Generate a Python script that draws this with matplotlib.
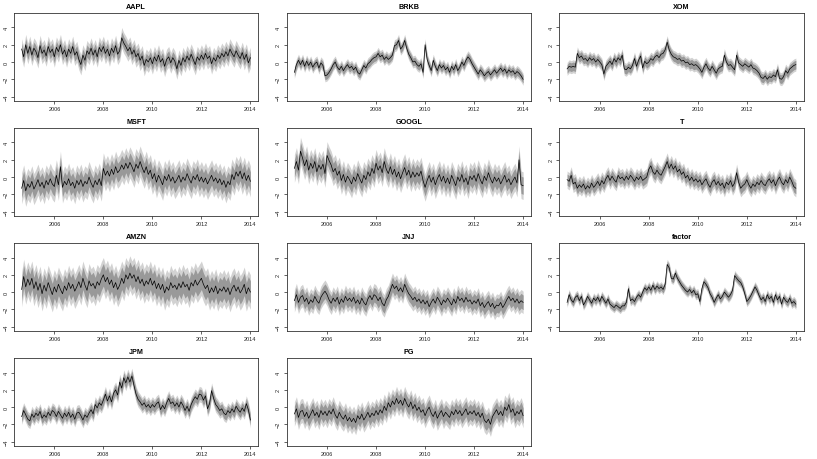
import matplotlib
matplotlib.use("Agg")
import matplotlib.pyplot as plt
import numpy as np

plt.rcParams['font.family'] = ['Liberation Sans', 'DejaVu Sans']

#inputs: monthly values, Sep 2004 .. Jan 2014
start_year = 2004 + 8 / 12.0
names = ['AAPL', 'BRKB', 'XOM', 'MSFT', 'GOOGL', 'T', 'AMZN', 'JNJ', 'factor', 'JPM', 'PG']

aapl = [1.5, 0.6, 2.0, 1.0,
        1.8, 0.8, 1.6, 1.2, 0.5, 1.9, 1.0, 1.4, 0.7, 1.8, 1.1, 1.5,
        0.6, 1.7, 1.2, 2.0, 0.9, 1.4, 0.6, 1.5, 1.0, 1.8, 0.8, 1.2,
        0.3, -0.3, 0.8, 0.2, 1.3, 0.9, 1.6, 0.8, 1.4, 0.6, 1.7, 1.2,
        1.8, 1.0, 1.5, 0.7, 1.6, 1.1, 1.9, 0.9, 1.3, 2.8, 2.2, 1.8,
        1.3, 1.7, 0.9, 1.4, 0.6, 1.0, 0.2, 0.7, -0.4, 0.3, 0.0, 0.5,
        -0.2, 0.6, 0.1, 0.8, 0.0, 0.4, -0.5, 0.3, 0.6, -0.1, 0.5, 0.1,
        -0.8, 0.2, -0.4, 0.5, 0.0, 0.7, 0.2, 0.9, 0.3, -0.3, 0.6, 0.2,
        0.8, 0.3, 1.0, 0.4, 0.7, -0.2, 0.5, 0.1, 0.8, 0.4, 1.0, 0.6,
        1.2, 0.7, 1.5, 1.0, 0.6, 1.3, 0.8, 0.4, 1.1, 0.3, 0.9, -0.1,
        0.5]
brkb = [-1.2, -0.3, 0.2, -0.3,
        0.2, -0.5, 0.1, -0.4, 0.0, -0.6, -0.2, 0.0, -0.7, -0.1, -0.4, -1.6,
        -1.5, -1.2, -0.8, -0.3, 0.0, -0.6, -0.9, -0.5, -1.0, -0.6, -0.3, -0.7,
        -0.5, -0.9, -0.6, -1.2, -1.4, -0.9, -0.4, -0.7, -0.2, 0.0, 0.3, 0.5,
        0.6, 1.0, 0.6, 0.8, 0.3, 0.6, 0.3, 0.5, 0.8, 1.9, 2.0, 2.5,
        1.5, 1.8, 2.5, 1.6, 0.9, 0.5, 0.0, 0.1, -0.3, -0.5, -0.2, -1.2,
        2.0, 0.3, -0.4, -1.0, 0.2, -0.5, -1.0, -0.3, -0.7, -0.4, -0.9, -0.6,
        -1.2, -0.5, -0.9, -0.3, -1.0, -0.6, 0.0, -0.4, 0.2, 0.6, 0.3, -0.2,
        -0.6, -1.0, -1.4, -0.9, -1.2, -1.6, -1.3, -1.1, -1.5, -1.2, -0.9, -1.3,
        -1.0, -0.7, -1.1, -0.8, -1.3, -0.9, -1.2, -1.0, -1.4, -1.1, -1.3, -1.6,
        -2.0]
xom = [-0.8, -0.5, -0.6, -0.5,
       -0.6, 1.0, 0.5, 0.7, 0.3, 0.4, 0.1, 0.5, 0.2, 0.4, 0.0, 0.3,
       0.0, -0.3, -1.4, -0.5, -0.2, 0.1, -0.3, 0.4, 0.0, 0.5, 0.2, 0.8,
       -0.8, -0.9, -0.6, -0.8, -0.4, 0.4, -0.5, 0.2, 0.7, -0.7, 0.1, -0.2,
       0.0, 0.4, 0.2, 0.6, 0.8, 0.5, 0.9, 1.0, 1.4, 2.3, 1.4, 0.9,
       0.6, 0.5, 0.3, 0.4, 0.1, 0.2, -0.1, 0.0, -0.3, -0.2, -0.4, -0.3,
       -0.5, -0.8, -1.2, -0.6, -0.2, -0.7, -1.0, -0.5, -0.9, -1.3, -0.8, -0.6,
       -0.5, 0.8, 0.0, -0.4, -0.3, -0.6, -0.9, 0.8, -0.1, -0.3, -0.5, -0.2,
       -0.4, -0.6, -0.3, -0.7, -0.8, -1.0, -1.3, -1.8, -1.9, -1.6, -2.0, -1.7,
       -1.8, -1.5, -1.7, -0.9, -1.9, -2.0, -1.7, -1.0, -1.3, -0.8, -0.6, -0.4,
       -0.3]
msft = [-1.3, -0.4, -1.6, -0.8,
        -1.2, -0.5, -1.4, -0.9, -0.3, -1.1, -0.6, -1.3, -0.4, -0.9, -0.2, -0.8,
        -1.1, 0.2, -0.9, 1.2, -1.2, -0.5, -0.9, -0.2, -1.0, -0.6, -1.3, -0.4,
        -0.9, -0.3, -1.1, -0.5, -0.8, 0.0, -0.7, -1.2, -0.4, -0.9, -0.2, -1.0,
        1.0, 0.2, 0.7, 0.1, 0.9, 0.3, 1.2, 0.5, 0.8, 1.4, 0.9, 1.6,
        1.0, 1.7, 1.2, 0.6, 1.5, 1.0, 1.8, 1.1, 0.5, 1.2, 0.3, 0.8,
        -0.2, 0.4, -0.6, 0.2, -0.3, -0.9, 0.1, -0.4, 0.3, -0.5, 0.0, -0.7,
        -0.3, 0.2, -0.6, 0.0, -0.4, 0.4, -0.2, -0.7, 0.1, -0.3, 0.3, -0.5,
        0.0, -0.6, -0.1, -0.8, -0.3, 0.2, -0.5, -0.1, -0.7, -0.2, -0.9, -0.4,
        -1.2, -0.5, -0.9, 0.3, -0.3, 0.6, 0.1, 0.7, -0.2, 0.5, -0.4, 0.2,
        -0.5]
googl = [1.0, 1.8, 0.8, 3.0,
         2.2, 1.3, 2.0, 0.8, 1.6, 1.0, 1.8, 0.6, 1.4, 0.9, 1.5, 0.4,
         2.5, 1.9, 1.4, 0.6, 1.0, 0.2, 0.7, -0.4, 0.3, -0.6, 0.1, -0.3,
         -0.8, 0.0, -0.5, 0.4, -0.2, -0.7, 0.2, -0.3, 0.6, 0.1, 1.0, 0.4,
         1.6, 0.8, 1.3, 0.5, 1.8, 0.9, 0.4, 1.2, 0.3, 0.9, 0.0, 0.6,
         -0.2, 0.5, 1.1, 0.2, 0.8, -0.1, 0.6, 0.0, 0.5, 0.1, 0.7, -0.4,
         -1.2, -0.4, 0.2, -0.6, 0.0, -0.9, -0.2, 0.3, -0.5, 0.1, -0.7, -0.1,
         -0.8, 0.2, -0.4, -1.0, 0.0, -0.5, 0.3, -0.6, -0.1, -0.9, 0.1, -0.3,
         0.2, -0.5, 0.4, -0.3, -0.8, 0.1, -0.4, 0.5, -0.2, -0.7, 0.0, -0.5,
         -0.1, -0.8, -0.3, 0.2, -0.6, -0.2, -0.9, -0.4, 0.0, -0.7, 2.0, -0.9,
         -1.0]
att = [-0.3, -0.5, 0.2, -0.8,
       -0.6, -1.3, -0.9, -1.2, -0.8, -1.4, -1.0, -1.3, -0.7, -1.2, -0.9, -0.5,
       -1.0, -0.4, -0.8, -0.2, 0.2, -0.4, 0.1, -0.3, -0.6, 0.2, -0.2, 0.0,
       -0.4, 0.1, -0.3, 0.2, -0.1, -0.5, 0.0, -0.3, 0.1, -0.4, -0.2, 0.0,
       0.9, 1.3, 0.6, 0.3, 0.8, 0.4, 0.2, 0.7, 1.2, 1.8, 1.0, 1.5,
       0.9, 1.3, 0.6, 0.9, 0.3, 0.6, -0.1, 0.2, -0.4, 0.0, -0.5, -0.2,
       -0.6, -0.3, -0.9, -0.5, -0.2, -0.8, -1.2, -0.6, -0.3, -0.9, -0.5, -1.0,
       -0.7, -1.3, -0.6, -0.9, -0.4, -1.1, -0.7, 0.5, -0.6, -1.3, -1.0, -0.8,
       -0.3, -0.9, -1.3, -0.8, -1.1, -0.6, -0.9, -0.4, -0.8, -1.0, -0.5, -0.2,
       -0.7, -0.3, -1.0, -0.4, 0.0, -0.6, -0.9, -0.3, -0.7, 0.0, -0.5, -1.1,
       -1.3]
amzn = [0.3, 1.8, 0.6, 1.5,
        0.8, 1.6, 0.4, 1.2, 0.2, 1.0, -0.2, 0.8, 0.1, 1.1, 0.4, -0.3,
        0.6, 0.0, 0.9, 0.3, -0.2, 0.7, 0.2, 1.1, 0.4, 0.9, 0.1, 0.6,
        1.2, 0.5, 1.6, 0.8, 0.2, 1.3, 0.7, 1.0, 0.4, 1.2, 0.8, 1.5,
        2.0, 1.2, 1.7, 0.9, 1.4, 0.5, 1.1, 0.3, 0.8, 1.6, 1.0, 2.0,
        1.5, 2.2, 1.6, 2.0, 1.2, 1.8, 1.0, 1.5, 0.7, 1.3, 0.9, 1.6,
        0.8, 1.3, 0.4, 1.0, 0.3, 0.9, -0.1, 0.6, 0.2, 1.1, 0.5, 0.8,
        0.3, 1.0, 0.5, 1.2, 0.6, 0.9, 0.2, 1.1, 0.7, 1.4, 0.8, 1.2,
        1.6, 0.9, 0.4, 0.8, -0.1, 0.5, 0.0, 0.7, -0.2, 0.4, 0.1, 0.6,
        0.0, 0.5, -0.3, 0.4, 0.8, 0.1, 0.6, -0.1, 0.3, 0.9, -0.2, 0.5,
        0.0]
jnj = [-1.0, -0.3, -1.2, -0.6,
       -0.4, -1.1, -0.7, -1.4, -0.9, -1.2, -0.5, -1.0, -1.3, -0.6, -0.2, 0.1,
       -0.3, -0.9, -1.3, -0.7, -1.1, -0.6, -1.4, -0.8, -1.2, -0.5, -1.0, -0.7,
       -1.1, -0.6, -1.3, -0.9, -1.4, -0.7, -1.2, -1.5, -0.8, -0.4, -0.9, -0.3,
       -0.5, -1.0, -0.6, -1.3, -1.6, -0.9, -0.5, 0.2, 0.9, 0.4, 0.7, 0.1,
       0.5, 0.0, 0.9, 0.3, -0.2, -0.5, -0.9, -0.6, -1.1, -0.8, -1.3, -0.9,
       -1.4, -1.0, -1.7, -1.2, -0.8, -1.3, -0.6, -1.0, -1.5, -0.9, -1.2, -0.7,
       -1.1, -1.5, -0.8, -1.3, -0.5, -1.0, -0.7, -1.2, -0.6, -1.1, -0.9, -1.4,
       -1.0, -1.3, -0.8, -1.6, -1.2, -1.8, -1.4, -1.1, -1.7, -1.3, -1.9, -1.5,
       -1.6, -1.2, -1.8, -1.4, -0.9, -0.5, -1.0, -0.7, -1.2, -0.8, -1.3, -1.0,
       -1.2]
factor = [-1.2, -0.3, -0.9, -1.2,
          -0.6, -0.4, -1.0, -0.5, -1.5, -1.1, -0.5, -0.9, -1.3, -0.7, -1.0, -0.6,
          -1.1, -0.5, -0.9, -1.3, -0.8, -1.4, -1.6, -1.8, -1.5, -1.7, -1.9, -1.6,
          -1.6, -1.2, 0.4, -1.0, -0.8, -1.1, -0.6, -0.3, -0.6, 0.0, 0.5, 0.2,
          0.6, 0.2, 0.8, 0.3, 0.7, 0.4, 0.6, 0.3, 0.9, 3.2, 2.8, 1.6,
          1.5, 2.2, 1.6, 1.2, 0.8, 0.5, 0.2, 0.0, 0.3, -0.1, 0.2, -0.3,
          -0.2, -1.1, 0.4, 1.2, 0.9, 0.5, -0.2, -0.6, -1.2, -0.7, -0.3, -0.8,
          -0.5, 0.0, -0.3, -0.6, -0.3, 0.2, 1.9, 1.6, 1.3, 1.1, 0.6, -0.2,
          -1.1, -0.8, -0.4, 0.1, 0.6, 0.2, -0.4, -0.9, -0.6, -1.1, -0.3, -0.8,
          -0.5, -1.2, -0.3, -0.9, -0.5, -1.4, -0.6, -1.0, -1.2, -0.7, -1.3, -1.1,
          -1.4]
jpm = [-1.1, -0.4, -0.9, -1.4,
       -1.6, -0.8, -1.2, -0.7, -1.0, -0.5, -1.3, -0.9, -1.2, -0.6, -1.0, -0.4,
       -0.6, -1.1, -0.5, -0.9, -1.3, -0.7, -1.1, -0.6, -1.2, -0.8, -1.4, -0.7,
       -0.6, -1.0, -1.5, -0.9, -1.2, -0.7, -0.3, -0.8, 0.3, -0.1, 0.5, 0.2,
       0.8, 1.5, 0.7, 1.3, 0.6, 1.6, 2.0, 1.4, 2.9, 2.2, 3.4, 2.8,
       3.5, 2.9, 3.6, 2.5, 1.5, 0.9, 0.6, 0.2, 0.5, 0.0, 0.3, -0.1,
       0.3, 0.0, 0.4, 0.6, -0.3, 0.2, -0.2, 0.5, 1.0, 0.4, 0.6, 0.1,
       0.5, 0.0, 0.6, 0.2, -0.4, 0.1, -0.5, 0.3, 0.8, 1.2, 0.9, 1.5,
       1.4, 0.8, 1.3, -0.2, 0.4, 1.9, 1.0, 0.3, 0.0, -0.4, -0.2, -0.7,
       -0.9, -0.4, -0.7, -0.2, -0.6, 0.1, -0.3, -0.6, -0.1, -0.5, 0.4, -0.3,
       -1.5]
pg = [-0.8, -0.2, -1.2, -0.5,
      -0.4, -1.1, -0.6, -1.3, -0.8, -0.3, -1.0, -0.6, -1.2, -0.4, -0.9, -0.5,
      -1.0, -0.4, -0.8, -0.2, -0.9, -1.3, -0.6, -1.1, -1.4, -0.9, -1.6, -1.2,
      -1.7, -1.3, -1.8, -1.0, -1.4, -0.8, -1.5, -1.1, -0.6, -1.2, -0.7, -1.0,
      -0.4, -0.9, -0.3, -0.7, 0.1, -0.4, 0.5, 0.0, 0.7, 0.3, 1.0, 0.4,
      0.8, 0.2, 1.0, 0.4, 0.0, 0.6, -0.2, 0.3, -0.4, 0.0, -0.6, -0.3,
      -1.0, -0.4, 0.0, -0.7, -1.1, -0.5, -1.3, -0.8, -0.4, -1.1, -0.6, -0.9,
      -1.2, -0.5, -0.9, -0.3, -0.8, -0.4, -1.0, -0.6, -0.2, -0.9, -0.5, -0.8,
      -0.4, -1.0, -0.6, -1.2, -0.7, -1.5, -1.8, -1.4, -2.0, -1.1, -0.7, -0.3,
      -0.9, -0.5, -1.0, 0.0, -0.4, 0.3, -0.6, -0.2, -1.0, -0.5, -0.8, -0.3,
      -1.0]

#half widths of the two bands around each line
inner = [0.7, 0.45, 0.5, 1.1, 1.0, 0.65, 1.3, 0.85, 0.4, 0.6, 0.9]
outer = [1.2, 0.7, 0.75, 1.8, 1.6, 1.0, 2.0, 1.3, 0.6, 0.9, 1.4]
#end inputs

series = [aapl, brkb, xom, msft, googl, att, amzn, jnj, factor, jpm, pg]

fig, axs = plt.subplots(4, 3, figsize=(8.17, 4.6), dpi=100)
fig.subplots_adjust(left=0.017, right=0.984, top=0.97, bottom=0.029, wspace=0.115, hspace=0.31)
axs = axs.ravel()

for index, vals in enumerate(series):
    ax = axs[index]
    y = np.array(vals)
    x = start_year + np.arange(len(y)) / 12.0
    ax.fill_between(x, y - outer[index], y + outer[index], color='#d2d2d2', lw=0)
    ax.fill_between(x, y - inner[index], y + inner[index], color='#999999', lw=0)
    ax.plot(x, y, color='black', lw=0.5)
    ax.set_title(names[index], fontsize=5.2, fontweight='bold', pad=3.5)
    ax.set_xlim(2004.35, 2014.33)
    ax.set_ylim(-4.47, 5.7)
    ax.set_xticks([2006, 2008, 2010, 2012, 2014])
    ax.set_yticks([-4, -2, 0, 2, 4])
    ax.tick_params(labelsize=4, length=2.5, width=0.5, pad=1.5, colors='#222222')
    for lab in ax.get_yticklabels():
        lab.set_rotation(90)
        lab.set_va('center')
    for sp in ax.spines.values():
        sp.set_linewidth(0.6)
        sp.set_color('#333333')

axs[11].axis('off')
plt.savefig('out.png', dpi=100)
